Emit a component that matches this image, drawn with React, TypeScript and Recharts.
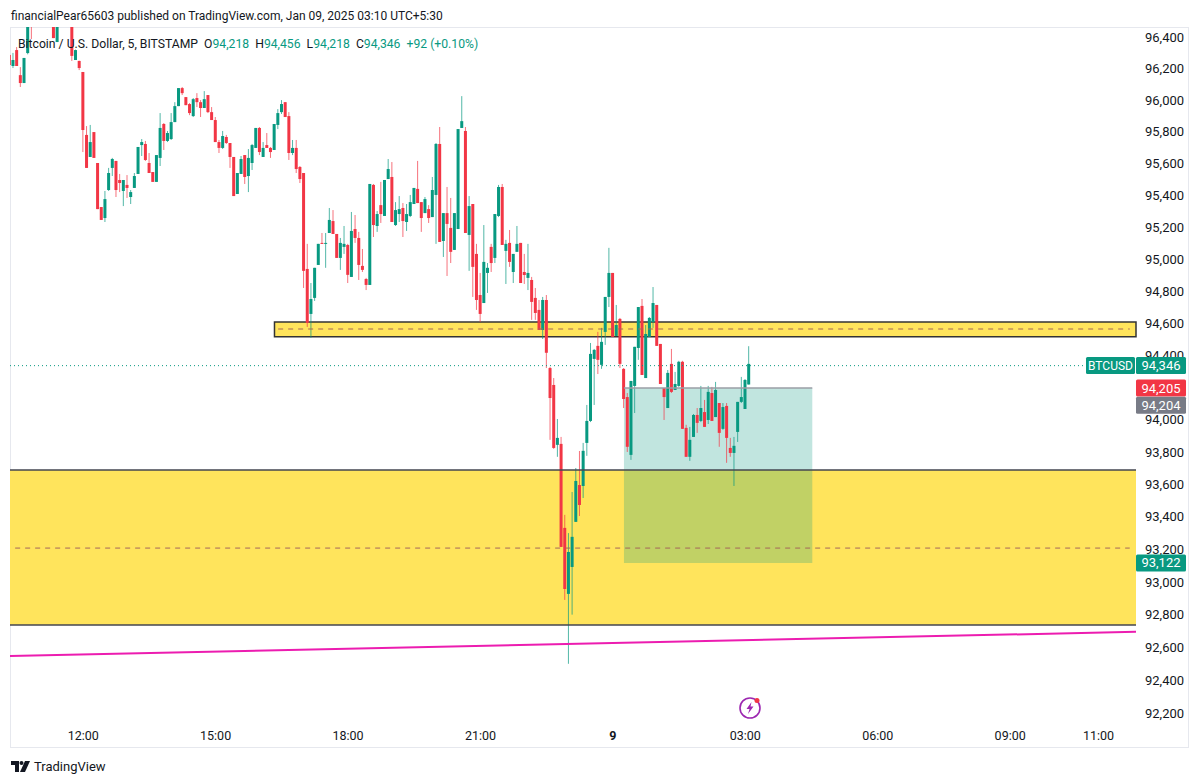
import { ComposedChart, Bar, XAxis, YAxis, ReferenceArea, ReferenceLine } from "recharts";

const UP = "#089981";
const DOWN = "#f23645";
const FONT = "Roboto, sans-serif";

// 5 minute candles, slot 20 = 12:00
const opens = [
  96286, 96216, 96317, 96158, 96108, 96298, 96560, 96520, 96500, 96540,
  96520, 96560, 96530, 96368, 96510, 96500, 96490, 96510, 96254, 96248,
  96178, 95780, 95641, 95798, 95603, 95326, 95257, 95433, 95572, 95616,
  95496, 95427, 95465, 95389, 95446, 95534, 95716, 95723, 95603, 95546,
  95484, 95635, 95849, 95742, 95754, 95861, 95962, 96076, 96019, 95975,
  95899, 96013, 95987, 95950, 96032, 95924, 95874, 95735, 95698, 95767,
  95729, 95641, 95408, 95534, 95653, 95521, 95603, 95698, 95824, 95641,
  95716, 95698, 95685, 95843, 95924, 95987, 95899, 95666, 95698, 95578,
  95540, 94938, 94657, 94757, 94963, 95101, 95095, 95163, 95238, 95157,
  95007, 95076, 95088, 94888, 95188, 95132, 94957, 94875, 94838, 95465,
  95207, 95338, 95270, 95502, 95515, 95213, 95282, 95320, 95232, 95270,
  95345, 95440, 95357, 95288, 95313, 95263, 95402, 95723, 95113, 95288,
  95195, 95057, 95188, 95824, 95805, 95151, 95345, 95032, 94775, 94725,
  94913, 95076, 95007, 95270, 95452, 95051, 95101, 94919, 95045, 95101,
  94919, 94882, 94869, 94757, 94682, 94557, 94744, 94320, 94215, 93844,
  93850, 93332, 92927, 93092, 93369, 93596, 93590, 93856, 93992, 94377,
  94458, 94340, 94545, 94763, 94913, 94520, 94626, 94315, 94140, 93782,
  94209, 94445, 94707, 94258, 94514, 94607, 94713, 94470, 94196, 94072,
  94346, 94184, 94209, 94359, 93949, 93770, 93893, 94029, 93992, 94047,
  93998, 94165, 94016, 94103, 93943, 94085, 93825, 93794, 93924, 94110,
  94066, 94218,
];
const highs = [
  96317, 96299, 96336, 96209, 96267, 96520, 96600, 96560, 96570, 96600,
  96590, 96610, 96560, 96540, 96550, 96540, 96530, 96530, 96320, 96250,
  96178, 95836, 95843, 95798, 95603, 95326, 95427, 95572, 95635, 95616,
  95534, 95496, 95527, 95433, 95540, 95704, 95754, 95742, 95666, 95546,
  95653, 95918, 95855, 95805, 95918, 95987, 96076, 96083, 96019, 95981,
  96013, 96044, 96000, 96057, 96032, 95956, 95893, 95748, 95805, 95780,
  95729, 95641, 95540, 95647, 95653, 95691, 95723, 95824, 95830, 95735,
  95792, 95704, 95849, 95943, 96000, 95987, 95924, 95748, 95748, 95584,
  95540, 95095, 94850, 94945, 95095, 95163, 95163, 95320, 95307, 95157,
  95132, 95207, 95095, 95295, 95276, 95170, 95063, 94882, 95471, 95471,
  95301, 95484, 95496, 95628, 95609, 95357, 95395, 95351, 95345, 95402,
  95446, 95616, 95357, 95389, 95338, 95515, 95729, 95830, 95288, 95452,
  95383, 95288, 95817, 96025, 95830, 95395, 95345, 95095, 94913, 95213,
  94975, 95095, 95282, 95465, 95471, 95120, 95182, 95032, 95207, 95101,
  95032, 95095, 94888, 94819, 94744, 94763, 94775, 94327, 94258, 94004,
  93893, 93412, 93300, 93553, 93701, 93806, 93856, 94091, 94476, 94439,
  94545, 94570, 94763, 95070, 94913, 94713, 94632, 94320, 94165, 94240,
  94452, 94700, 94750, 94588, 94638, 94825, 94713, 94470, 94196, 94308,
  94439, 94296, 94365, 94365, 93968, 93955, 94035, 94072, 94209, 94122,
  94209, 94203, 94234, 94103, 94103, 94103, 93887, 93893, 94110, 94265,
  94252, 94456,
];
const lows = [
  96190, 96203, 96216, 96083, 96108, 96290, 96387, 96480, 96475, 96500,
  96480, 96520, 96393, 96368, 96480, 96475, 96470, 96248, 96254, 96190,
  95672, 95572, 95641, 95635, 95313, 95245, 95232, 95427, 95521, 95389,
  95420, 95332, 95383, 95345, 95446, 95534, 95647, 95616, 95540, 95484,
  95484, 95584, 95685, 95735, 95748, 95861, 95962, 96032, 95968, 95905,
  95893, 95956, 95893, 95950, 95918, 95874, 95735, 95666, 95691, 95723,
  95572, 95395, 95408, 95534, 95471, 95420, 95559, 95698, 95653, 95641,
  95698, 95635, 95685, 95817, 95912, 95893, 95622, 95653, 95540, 95477,
  94819, 94576, 94508, 94738, 94963, 95095, 94945, 95163, 95157, 95007,
  94932, 95032, 94850, 94888, 95101, 94869, 94919, 94806, 94838, 95138,
  95170, 95226, 95270, 95502, 95232, 95207, 95232, 95138, 95176, 95263,
  95345, 95351, 95170, 95288, 95226, 95263, 95095, 95107, 95013, 94894,
  94975, 95057, 95188, 95824, 95163, 94926, 94763, 94682, 94607, 94725,
  94788, 94919, 94975, 95263, 95088, 94844, 94951, 94850, 95045, 94850,
  94844, 94806, 94620, 94620, 94557, 94501, 94320, 93875, 93819, 93770,
  93215, 92890, 92500, 92800, 93369, 93405, 93516, 93776, 93985, 94091,
  94283, 94315, 94464, 94700, 94514, 94520, 94320, 94072, 93800, 93751,
  94041, 94371, 94277, 94258, 94514, 94570, 94458, 94221, 93998, 94072,
  94165, 94184, 94203, 93943, 93770, 93745, 93893, 93918, 93985, 93955,
  93973, 93992, 94016, 93832, 93937, 93733, 93770, 93590, 93862, 94103,
  94066, 94218,
];
const closes = [
  96222, 96254, 96216, 96108, 96267, 96480, 96470, 96500, 96540, 96520,
  96560, 96530, 96393, 96510, 96500, 96490, 96510, 96280, 96317, 96203,
  95811, 95572, 95735, 95635, 95313, 95245, 95376, 95540, 95628, 95433,
  95477, 95496, 95446, 95420, 95521, 95704, 95735, 95622, 95540, 95484,
  95653, 95824, 95742, 95792, 95861, 95962, 96076, 96044, 95968, 95918,
  96006, 95987, 95950, 96006, 95924, 95874, 95735, 95698, 95773, 95729,
  95641, 95395, 95540, 95628, 95515, 95635, 95716, 95824, 95672, 95698,
  95698, 95672, 95849, 95918, 95975, 95893, 95666, 95698, 95565, 95502,
  94926, 94601, 94750, 94945, 95095, 95095, 95101, 95245, 95157, 95007,
  95101, 95095, 94901, 95176, 95132, 94963, 94932, 94838, 95471, 95213,
  95282, 95282, 95496, 95565, 95232, 95307, 95313, 95238, 95282, 95357,
  95446, 95351, 95257, 95376, 95257, 95433, 95723, 95107, 95288, 95220,
  95045, 95288, 95817, 95867, 95163, 95332, 94951, 94744, 94657, 94982,
  94945, 94975, 95282, 95452, 95088, 95095, 94982, 95032, 95095, 94850,
  94900, 94913, 94732, 94663, 94557, 94744, 94415, 94134, 93825, 93887,
  93215, 92957, 93184, 93277, 93621, 93473, 93807, 93992, 94408, 94433,
  94371, 94483, 94763, 94913, 94514, 94588, 94346, 94128, 93832, 94240,
  94452, 94700, 94277, 94532, 94632, 94725, 94458, 94221, 94140, 94290,
  94172, 94221, 94359, 93943, 93770, 93875, 94029, 93980, 94072, 93955,
  94172, 93992, 94184, 93918, 94078, 93887, 93794, 93838, 94110, 94140,
  94246, 94346,
];

// 94,200 sits behind the last price tags, so it is not listed
const priceTicks = [
  92200, 92400, 92600, 92800, 93000, 93200, 93400, 93600, 93800, 94000,
  94400, 94600, 94800, 95000, 95200, 95400, 95600, 95800, 96000, 96200, 96400,
];
const timeSlots = [20, 56, 92, 128, 164, 200, 236, 272, 296];
const timeLabels = ["12:00", "15:00", "18:00", "21:00", "9", "03:00", "06:00", "09:00", "11:00"];

const SLOT_MIN = 0.1;
const SLOT_MAX = 306.2;
const PRICE_DOMAIN = [92152, 96463.5];
const CHART_MARGIN = { top: 27, right: 0, bottom: 36, left: 10 };

const chartData = opens.map((open, i) => ({
  slot: i,
  open,
  high: highs[i],
  low: lows[i],
  close: closes[i],
  range: [lows[i], highs[i]],
}));

// body position inside the wick, prices are on a log axis
function Candle(props: any) {
  const { x, y, width, height, payload } = props;
  const { open, close, high, low } = payload;
  const color = close >= open ? UP : DOWN;
  const span = Math.log(high / low) || 1;
  const top = y + (Math.log(high / Math.max(open, close)) / span) * height;
  const bottom = y + (Math.log(high / Math.min(open, close)) / span) * height;
  const cx = x + width / 2;
  return (
    <g>
      <line x1={cx} x2={cx} y1={y} y2={y + height} stroke={color} strokeWidth={1} strokeOpacity={0.7} />
      <rect x={cx - 1.5} y={top} width={3} height={Math.max(bottom - top, 1)} fill={color} />
    </g>
  );
}

function PriceTag(props: any) {
  const { viewBox, text, fill, dy = 0, name } = props;
  const x = viewBox.x + viewBox.width;
  const y = viewBox.y + dy;
  return (
    <g fontFamily={FONT} fontSize={13} fill="#fff" textAnchor="middle">
      {name && <rect x={x - 50} y={y - 8.5} width={49} height={17} rx={1.5} fill={fill} />}
      {name && <text x={x - 25.5} y={y + 4.5} fill="#fff" fontSize={12}>{name}</text>}
      <rect x={x} y={y - 8.5} width={50} height={17} rx={1.5} fill={fill} />
      <text x={x + 25} y={y + 4.5} fill="#fff">{text}</text>
    </g>
  );
}

function TimeTick(props: any) {
  const { x, y, payload } = props;
  const label = timeLabels[timeSlots.indexOf(payload.value)];
  return (
    <text x={x} y={y + 11} textAnchor="middle" fontFamily={FONT} fontSize={12.5} fill="#131722" fontWeight={label === "9" ? 700 : 400}>
      {label}
    </text>
  );
}

export default function App() {
  return (
    <div style={{ position: "absolute", left: 0, top: 0, width: 1200, height: 784, background: "#fff", overflow: "hidden", fontFamily: FONT, color: "#131722" }}>
      <div style={{ position: "absolute", left: 11, top: 9, fontSize: 12, whiteSpace: "nowrap" }}>
        financialPear65603 published on TradingView.com, Jan 09, 2025 03:10 UTC+5:30
      </div>
      <div style={{ position: "absolute", left: 10, top: 27, width: 1179, height: 721, border: "1px solid #e6e8ee", boxSizing: "border-box" }} />
      <ComposedChart
        width={1200}
        height={784}
        data={chartData}
        margin={CHART_MARGIN}
        style={{ position: "absolute", left: 0, top: 0 }}
      >
        <XAxis
          dataKey="slot"
          type="number"
          domain={[SLOT_MIN, SLOT_MAX]}
          allowDataOverflow
          ticks={timeSlots}
          interval={0}
          height={27}
          axisLine={false}
          tickLine={false}
          tick={<TimeTick />}
        />
        <YAxis
          orientation="right"
          scale="log"
          domain={PRICE_DOMAIN}
          allowDataOverflow
          ticks={priceTicks}
          interval={0}
          width={64}
          axisLine={false}
          tickLine={false}
          tickMargin={3}
          tick={{ fill: "#131722", fontSize: 13, fontFamily: FONT }}
          tickFormatter={(v: number) => v.toLocaleString("en-US")}
        />
        <ReferenceArea x1={SLOT_MIN} x2={SLOT_MAX} y1={92737} y2={93689} fill="#ffe45c" fillOpacity={1} stroke="none" />
        <ReferenceLine y={93689} stroke="#434651" strokeWidth={1.5} />
        <ReferenceLine y={92737} stroke="#434651" strokeWidth={1.5} />
        <ReferenceLine segment={[{ x: 1.5, y: 93208 }, { x: 304.5, y: 93208 }]} stroke="#a3685a" strokeDasharray="5 5" />
        <ReferenceArea x1={72} x2={SLOT_MAX} y1={94515} y2={94606} fill="#ffe45c" fillOpacity={1} stroke="#333" strokeWidth={1.5} />
        <ReferenceLine segment={[{ x: 73, y: 94563 }, { x: 304.5, y: 94563 }]} stroke="#a3685a" strokeDasharray="5 5" />
        <ReferenceArea x1={167} x2={218.2} y1={93117} y2={94196} fill={UP} fillOpacity={0.25} stroke="none" />
        <ReferenceLine segment={[{ x: 167, y: 94196 }, { x: 218.2, y: 94196 }]} stroke="#9a9ea6" strokeWidth={1.5} />
        <ReferenceLine segment={[{ x: SLOT_MIN, y: 92548 }, { x: SLOT_MAX, y: 92695 }]} stroke="#ec1cb0" strokeWidth={2} />
        <ReferenceLine segment={[{ x: SLOT_MIN, y: 94335 }, { x: 292, y: 94335 }]} stroke={UP} strokeDasharray="1 3" />
        <Bar dataKey="range" barSize={3} shape={<Candle />} isAnimationActive={false} />
      </ComposedChart>
      {/* second chart on top so the last price tags cover the axis labels */}
      <ComposedChart
        width={1200}
        height={784}
        data={chartData}
        margin={CHART_MARGIN}
        style={{ position: "absolute", left: 0, top: 0 }}
      >
        <XAxis dataKey="slot" type="number" domain={[SLOT_MIN, SLOT_MAX]} allowDataOverflow height={27} axisLine={false} tickLine={false} tick={false} />
        <YAxis orientation="right" scale="log" domain={PRICE_DOMAIN} allowDataOverflow width={64} axisLine={false} tickLine={false} tick={false} />
        <ReferenceLine y={94346} stroke="none" label={<PriceTag text="94,346" name="BTCUSD" fill={UP} dy={1.5} />} />
        <ReferenceLine y={94205} stroke="none" label={<PriceTag text="94,205" fill={DOWN} dy={1.5} />} />
        <ReferenceLine y={94204} stroke="none" label={<PriceTag text="94,204" fill="#787b86" dy={18.5} />} />
        <ReferenceLine y={93117} stroke="none" label={<PriceTag text="93,122" fill={UP} />} />
      </ComposedChart>
      <div style={{ position: "absolute", left: 18, top: 36.5, fontSize: 12.2, whiteSpace: "nowrap" }}>
        Bitcoin / U.S. Dollar, 5, BITSTAMP&nbsp;&nbsp;O<span style={{ color: UP }}>94,218</span>&nbsp;&nbsp;H<span style={{ color: UP }}>94,456</span>&nbsp;&nbsp;L<span style={{ color: UP }}>94,218</span>&nbsp;&nbsp;C<span style={{ color: UP }}>94,346</span>&nbsp;&nbsp;<span style={{ color: UP }}>+92 (+0.10%)</span>
      </div>
      <svg style={{ position: "absolute", left: 738, top: 696 }} width={24} height={24} viewBox="0 0 24 24">
        <circle cx={12} cy={12} r={10} fill="none" stroke="#9c27b0" strokeWidth={1.6} />
        <path d="M13.5 6 L8.5 13 H11.5 L10 18 L15.5 10.5 H12.5 Z" fill="#9c27b0" />
        <circle cx={19} cy={4.5} r={2.5} fill="#f23645" />
      </svg>
      <svg style={{ position: "absolute", left: 11, top: 761 }} width={20} height={12} viewBox="0 0 20 12">
        <path d="M0 0 H8 V11 H4 V4 H0 Z" fill="#131722" />
        <circle cx={10.5} cy={2} r={2} fill="#131722" />
        <path d="M14 0 H19 L14 11 H9 Z" fill="#131722" />
      </svg>
      <div style={{ position: "absolute", left: 34, top: 759, fontSize: 13, whiteSpace: "nowrap" }}>TradingView</div>
    </div>
  );
}
